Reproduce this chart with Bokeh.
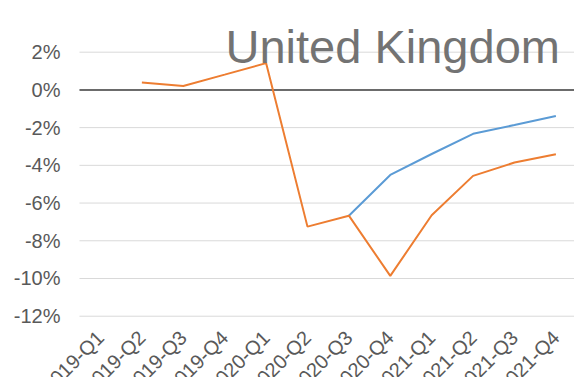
import math
from bokeh.plotting import figure
from bokeh.models import FixedTicker, Label
from bokeh.embed import file_html
from bokeh.resources import INLINE

# Quarterly GDP change, % year on year
quarters = ["2019-Q1", "2019-Q2", "2019-Q3", "2019-Q4",
            "2020-Q1", "2020-Q2", "2020-Q3", "2020-Q4",
            "2021-Q1", "2021-Q2", "2021-Q3", "2021-Q4"]
nan = float("nan")
upside_path = [nan, nan, nan, nan, nan, nan,
               -6.67, -4.51, -3.40, -2.33, -1.86, -1.38]
downside_path = [nan, 0.39, 0.21, 0.81, 1.42, -7.25,
                 -6.67, -9.86, -6.65, -4.56, -3.85, -3.41]
y_ticks = [2, 0, -2, -4, -6, -8, -10, -12]

FONT = "Liberation Sans"
LABEL_GREY = "#595959"

xs = list(range(len(quarters)))

# plot-area edges (data units); the frame itself fills the whole canvas so
# that the axis labels hanging outside the plot area are not clipped
AREA_LEFT, AREA_RIGHT = -0.507, 11.45

p = figure(width=574, height=377, output_backend="svg", toolbar_location=None,
           x_range=(-2.415, AREA_RIGHT), y_range=(-15.25, 4.74),
           min_border_left=0, min_border_right=0,
           min_border_top=0, min_border_bottom=0)
p.outline_line_color = None
p.background_fill_color = "white"
p.border_fill_color = "white"
p.xgrid.grid_line_color = None
p.ygrid.grid_line_color = None

# horizontal gridlines across the plot area
p.segment(x0=[AREA_LEFT] * len(y_ticks), x1=[AREA_RIGHT] * len(y_ticks),
          y0=y_ticks, y1=y_ticks, line_color="#d9d9d9", line_width=1)

# y axis pinned to the left edge of the plot area
p.yaxis.fixed_location = AREA_LEFT
p.yaxis.ticker = FixedTicker(ticks=y_ticks)
p.yaxis.major_label_overrides = {t: f"{t}%" for t in y_ticks}
p.yaxis.axis_line_color = None
p.yaxis.major_tick_line_color = None
p.yaxis.minor_tick_line_color = None
p.yaxis.major_tick_out = 0
p.yaxis.major_label_standoff = 19
p.yaxis.major_label_text_font = FONT
p.yaxis.major_label_text_font_size = "20px"
p.yaxis.major_label_text_color = LABEL_GREY

# x axis pinned to the -12% line, with rotated quarter labels
p.xaxis.fixed_location = min(y_ticks)
p.xaxis.ticker = FixedTicker(ticks=xs)
p.xaxis.major_label_overrides = {i: q for i, q in zip(xs, quarters)}
p.xaxis.major_label_orientation = math.pi / 4
p.xaxis.axis_line_color = None
p.xaxis.major_tick_line_color = None
p.xaxis.minor_tick_line_color = None
p.xaxis.major_tick_out = 0
p.xaxis.major_label_standoff = 18
p.xaxis.major_label_text_font = FONT
p.xaxis.major_label_text_font_size = "20px"
p.xaxis.major_label_text_color = LABEL_GREY

# zero line
p.segment(x0=[AREA_LEFT], x1=[AREA_RIGHT], y0=[0], y1=[0],
          line_color="#404040", line_width=1.5)

p.line(xs, upside_path, line_color="#5B9BD5", line_width=2)
p.line(xs, downside_path, line_color="#ED7D31", line_width=2)

p.add_layout(Label(x=3.02, y=2.29, text="United Kingdom",
                   text_font=FONT, text_font_size="47px",
                   text_color="#737373", text_baseline="alphabetic"))

open("out.html", "w").write(file_html(p, INLINE))
